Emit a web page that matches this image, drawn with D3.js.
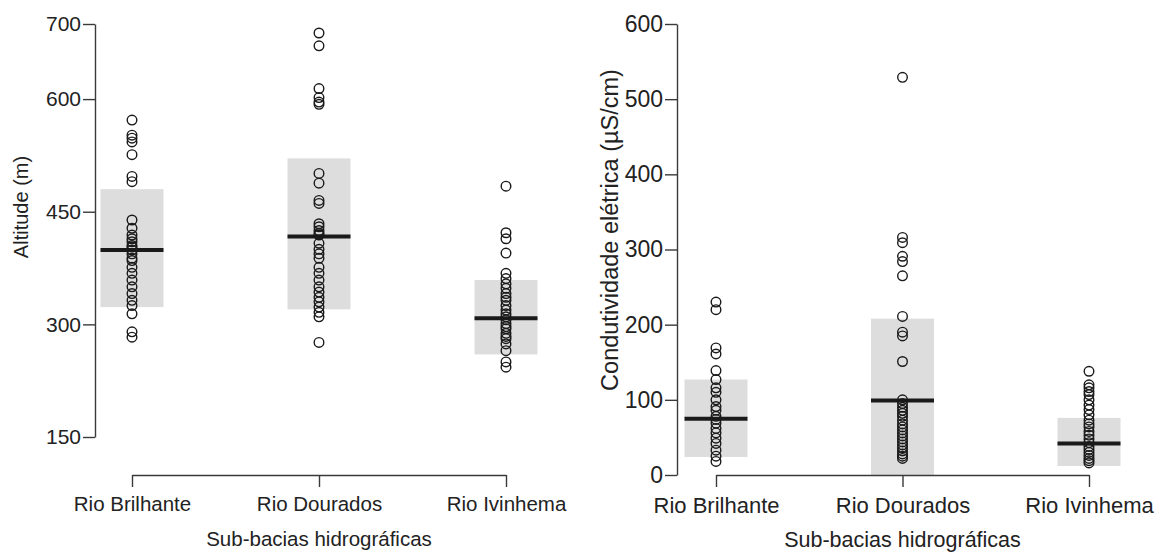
<!DOCTYPE html>
<html lang="pt">
<head>
<meta charset="utf-8">
<title>Sub-bacias</title>
<script src="https://d3js.org/d3.v7.min.js"></script>
<style>
  body { margin: 0; background: #fff; }
  svg text { font-family: "Liberation Sans", Arial, sans-serif; fill: #222; }
  .axis path, .axis line { stroke: #3a3a3a; stroke-width: 1.4px; }
  .pt { fill: none; stroke: #1a1a1a; stroke-width: 1.4px; }
  .box { fill: #dddddd; }
  .med { stroke: #1a1a1a; stroke-width: 4px; }
</style>
</head>
<body>
<svg width="1157" height="554"></svg>
<script>
var groups = ["Rio Brilhante", "Rio Dourados", "Rio Ivinhema"];

// Altitude (m)
var altBrilhante = [572, 552, 548, 543, 526, 497, 490, 439, 428, 419, 414, 410, 405, 403, 399, 394, 388, 385, 376, 368, 359, 350, 341, 332, 325, 314, 290, 283];
var altDourados = [688, 671, 614, 602, 596, 593, 501, 488, 465, 461, 434, 430, 425, 421, 419, 408, 400, 394, 388, 376, 368, 359, 350, 343, 336, 330, 323, 316, 310, 276];
var altIvinhema = [484, 422, 414, 395, 368, 361, 354, 348, 341, 336, 332, 325, 319, 314, 310, 306, 301, 297, 294, 288, 284, 281, 274, 265, 250, 243];
var altLow = [323, 320, 260];
var altHigh = [480, 521, 359];
var altMedian = [399, 417, 308];
var altTicks = [150, 300, 450, 600, 700];

// Condutividade eletrica (uS/cm)
var condBrilhante = [230, 220, 169, 161, 139, 127, 116, 110, 100, 91, 86, 78, 74, 69, 62, 56, 49, 42, 33, 25, 18];
var condDourados = [529, 316, 309, 291, 284, 265, 211, 190, 185, 151, 100, 95, 90, 86, 82, 78, 73, 68, 64, 60, 56, 52, 48, 44, 40, 36, 32, 28, 25, 22];
var condIvinhema = [138, 120, 116, 111, 107, 100, 93, 87, 80, 73, 68, 64, 58, 53, 48, 43, 38, 34, 30, 26, 22, 19, 16];
var condLow = [24, 0, 12];
var condHigh = [127, 208, 76];
var condMedian = [75, 99, 42];
var condTicks = [0, 100, 200, 300, 400, 500, 600];

var svg = d3.select("svg");

function panel(opt) {
  var x = d3.scalePoint().domain(groups).range(opt.xRange);
  var y = d3.scaleLinear().domain(opt.yDomain).range(opt.yRange);
  var g = svg.append("g");
  var bw = 63;

  g.selectAll(".box").data(groups).enter().append("rect")
    .attr("class", "box")
    .attr("x", function(d) { return x(d) - bw / 2; })
    .attr("width", bw)
    .attr("y", function(d, i) { return y(opt.high[i]); })
    .attr("height", function(d, i) { return y(opt.low[i]) - y(opt.high[i]); });

  g.selectAll(".med").data(groups).enter().append("line")
    .attr("class", "med")
    .attr("x1", function(d) { return x(d) - bw / 2; })
    .attr("x2", function(d) { return x(d) + bw / 2; })
    .attr("y1", function(d, i) { return y(opt.median[i]); })
    .attr("y2", function(d, i) { return y(opt.median[i]); });

  opt.series.forEach(function(vals, i) {
    g.selectAll(null).data(vals).enter().append("circle")
      .attr("class", "pt")
      .attr("cx", x(groups[i]))
      .attr("cy", function(d) { return y(d); })
      .attr("r", 4.8);
  });

  g.append("g")
    .attr("class", "axis")
    .attr("transform", "translate(" + opt.yAxisX + ",0)")
    .call(d3.axisLeft(y).tickValues(opt.ticks).tickSize(12).tickSizeOuter(0).tickPadding(2))
    .call(function(a) { a.selectAll("text").attr("fill", "#222").style("font-size", opt.tickFont); });

  g.append("g")
    .attr("class", "axis")
    .attr("transform", "translate(0," + opt.xAxisY + ")")
    .call(d3.axisBottom(x).tickSize(12).tickSizeOuter(0).tickPadding(9))
    .call(function(a) { a.selectAll("text").attr("fill", "#222").attr("dy", "0.75em").style("font-size", opt.labelFont); });

  g.append("text")
    .attr("x", (opt.xRange[0] + opt.xRange[1]) / 2)
    .attr("y", opt.xTitleY)
    .attr("text-anchor", "middle")
    .style("font-size", opt.titleFont)
    .text("Sub-bacias hidrográficas");

  g.append("text")
    .attr("transform", "translate(" + opt.yTitleX + "," + opt.yTitleY + ") rotate(-90)")
    .attr("text-anchor", "middle")
    .style("font-size", opt.yTitleFont)
    .text(opt.yTitle);
}

panel({
  xRange: [132, 506], yDomain: [150, 700], yRange: [437, 24],
  series: [altBrilhante, altDourados, altIvinhema],
  low: altLow, high: altHigh, median: altMedian, ticks: altTicks,
  yAxisX: 95, xAxisY: 475, xTitleY: 546, yTitleX: 28, yTitleY: 207,
  tickFont: "21px", labelFont: "20.5px", titleFont: "20.5px", yTitleFont: "20px",
  yTitle: "Altitude (m)"
});

panel({
  xRange: [716, 1089], yDomain: [0, 600], yRange: [475, 24],
  series: [condBrilhante, condDourados, condIvinhema],
  low: condLow, high: condHigh, median: condMedian, ticks: condTicks,
  yAxisX: 677, xAxisY: 475, xTitleY: 547, yTitleX: 618, yTitleY: 230,
  tickFont: "23px", labelFont: "22px", titleFont: "21.5px", yTitleFont: "23.5px",
  yTitle: "Condutividade elétrica (µS/cm)"
});
</script>
</body>
</html>
